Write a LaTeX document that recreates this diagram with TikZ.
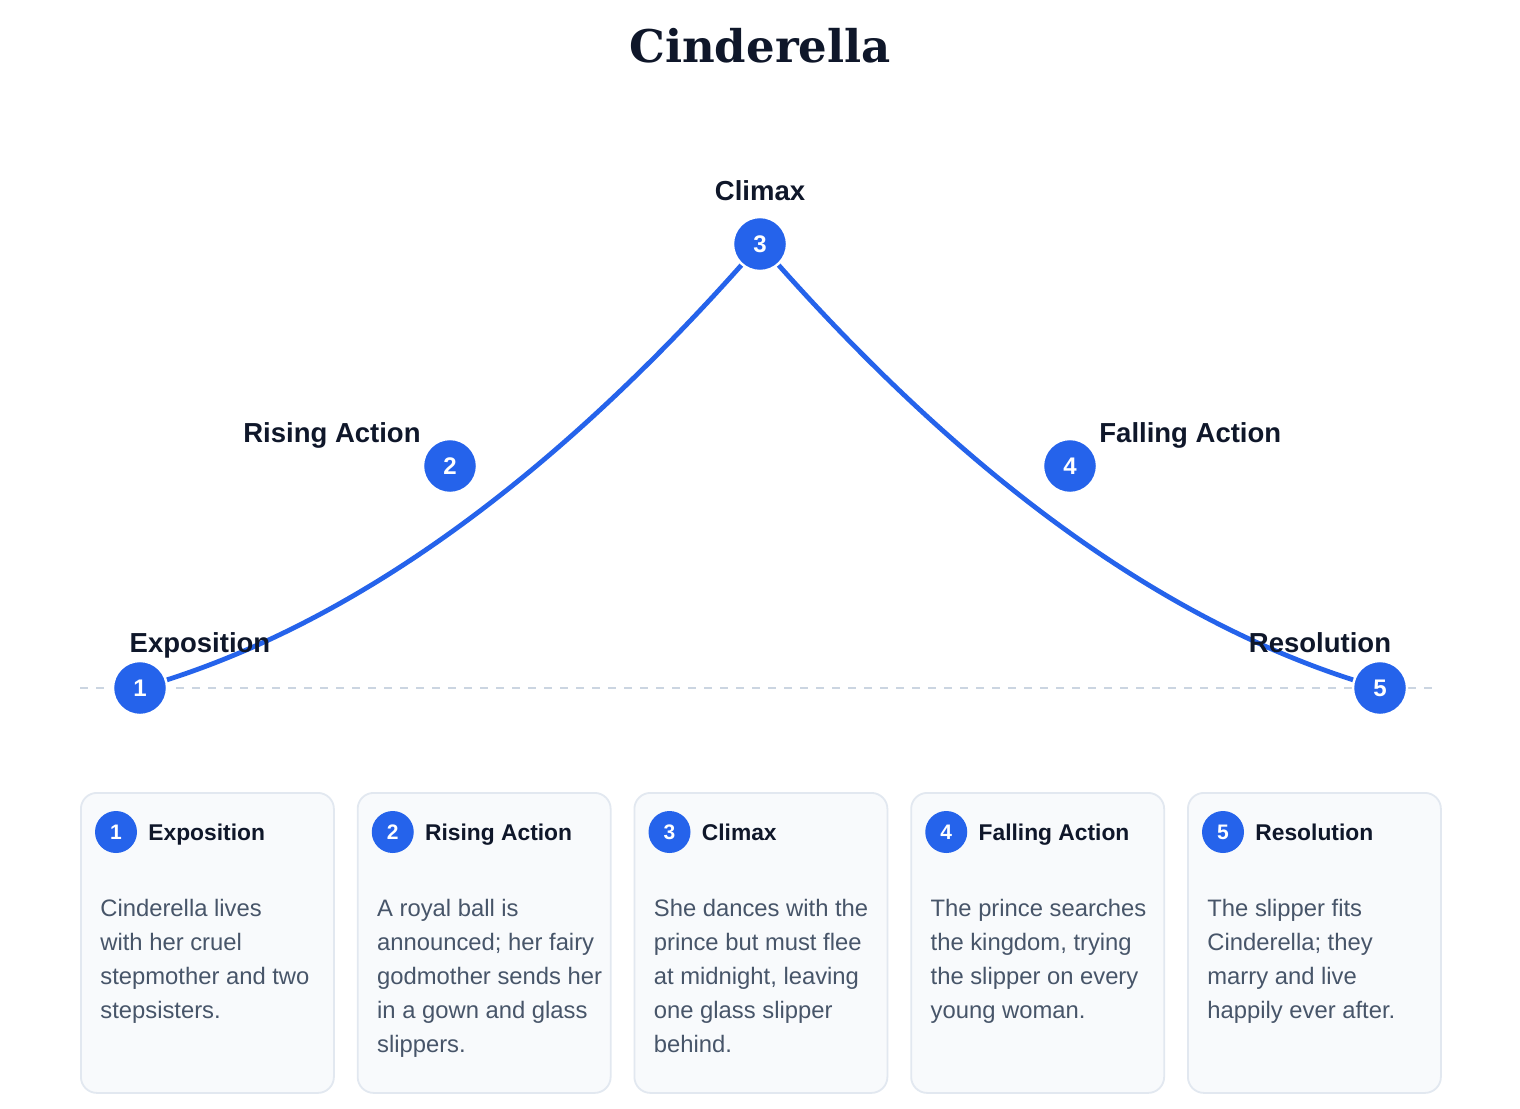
\documentclass[tikz,border=0pt]{standalone}
\usepackage{fontspec}
\setmainfont{Liberation Sans}
\newfontfamily\titlefont{DejaVu Serif}
\usetikzlibrary{calc,backgrounds}
\definecolor{accent}{HTML}{2563EB}
\definecolor{ink}{HTML}{0F172A}
\definecolor{bodyink}{HTML}{475569}
\definecolor{cardfill}{HTML}{F8FAFC}
\definecolor{cardline}{HTML}{E2E8F0}
\definecolor{baseline}{HTML}{CBD5E1}
\tikzset{
  bigdot/.style={circle,fill=accent,draw=white,line width=1.2pt,minimum size=27pt,inner sep=0pt,text=white,font=\bfseries\fontsize{12}{14}\selectfont},
  smalldot/.style={circle,fill=accent,minimum size=21pt,inner sep=0pt,text=white,font=\bfseries\fontsize{10.5}{12}\selectfont},
  plotlabel/.style={text=ink,font=\bfseries\fontsize{13.75}{16}\selectfont,inner sep=0pt},
  cardbox/.style={draw=cardline,fill=cardfill,line width=0.9pt,rounded corners=8pt,minimum width=126.5pt,minimum height=150pt,inner sep=0pt},
  cardhead/.style={text=ink,font=\bfseries\fontsize{11.4}{14}\selectfont,inner sep=0pt,anchor=base west},
  cardbody/.style={text=bodyink,font=\fontsize{11.9}{17}\selectfont,inner sep=0pt,anchor=north west,align=left},
  arc/.style={draw=accent,line width=2.4pt},
  ground/.style={draw=baseline,line width=1.2pt,dash pattern=on 4pt off 4pt}
}
\begin{document}
\begin{tikzpicture}[x=0.5pt,y=-0.5pt]
\useasboundingbox (0,0) rectangle (1520,1108);
% title
\node[anchor=base,inner sep=0pt,text=ink,font=\titlefont\bfseries\fontsize{22.5}{26}\selectfont] (title) at (760,62) {Cinderella};
% ground line
\coordinate (g0) at (80,688);
\coordinate (g1) at (1432,688);
% plot points
\node[bigdot] (p1) at (140,688) {1};
\node[bigdot] (p2) at (450,466) {2};
\node[bigdot] (p3) at (760,244) {3};
\node[bigdot] (p4) at (1070,466) {4};
\node[bigdot] (p5) at (1380,688) {5};
\coordinate (q1) at (450,600);
\coordinate (q2) at (1070,600);
\begin{scope}[on background layer]
\fill[white] (0,0) rectangle (1520,1108);
\draw[ground] (g0) -- (g1);
\draw[arc] (p1.center) .. controls ($(p1.center)!2/3!(q1)$) and ($(p3.center)!2/3!(q1)$) .. (p3.center)
           .. controls ($(p3.center)!2/3!(q2)$) and ($(p5.center)!2/3!(q2)$) .. (p5.center);
\end{scope}
% plot labels
\node[plotlabel,anchor=base] (l1) at (200,652) {Exposition};
\node[plotlabel,anchor=base east] (l2) at (421,442) {Rising Action};
\node[plotlabel,anchor=base] (l3) at (760,200) {Climax};
\node[plotlabel,anchor=base west] (l4) at (1099,442) {Falling Action};
\node[plotlabel,anchor=base] (l5) at (1320,652) {Resolution};
% cards
\node[cardbox,anchor=north west] (c1) at (80,792) {};
\node[cardbox,anchor=north west] (c2) at (356.75,792) {};
\node[cardbox,anchor=north west] (c3) at (633.5,792) {};
\node[cardbox,anchor=north west] (c4) at (910.25,792) {};
\node[cardbox,anchor=north west] (c5) at (1187,792) {};
\foreach \i/\t in {1/Exposition,2/Rising Action,3/Climax,4/Falling Action,5/Resolution}{
  \node[smalldot] (h\i) at ($(c\i.north west)+(36,40)$) {\i};
  \node[cardhead] (t\i) at ($(c\i.north west)+(68,48)$) {\t};
}
\node[cardbody] (b1) at ($(c1.north west)+(20,100)$) {\strut Cinderella lives\\with her cruel\\stepmother and two\\stepsisters.};
\node[cardbody] (b2) at ($(c2.north west)+(20,100)$) {\strut A royal ball is\\announced; her fairy\\godmother sends her\\in a gown and glass\\slippers.};
\node[cardbody] (b3) at ($(c3.north west)+(20,100)$) {\strut She dances with the\\prince but must flee\\at midnight, leaving\\one glass slipper\\behind.};
\node[cardbody] (b4) at ($(c4.north west)+(20,100)$) {\strut The prince searches\\the kingdom, trying\\the slipper on every\\young woman.};
\node[cardbody] (b5) at ($(c5.north west)+(20,100)$) {\strut The slipper fits\\Cinderella; they\\marry and live\\happily ever after.};
\end{tikzpicture}
\end{document}
